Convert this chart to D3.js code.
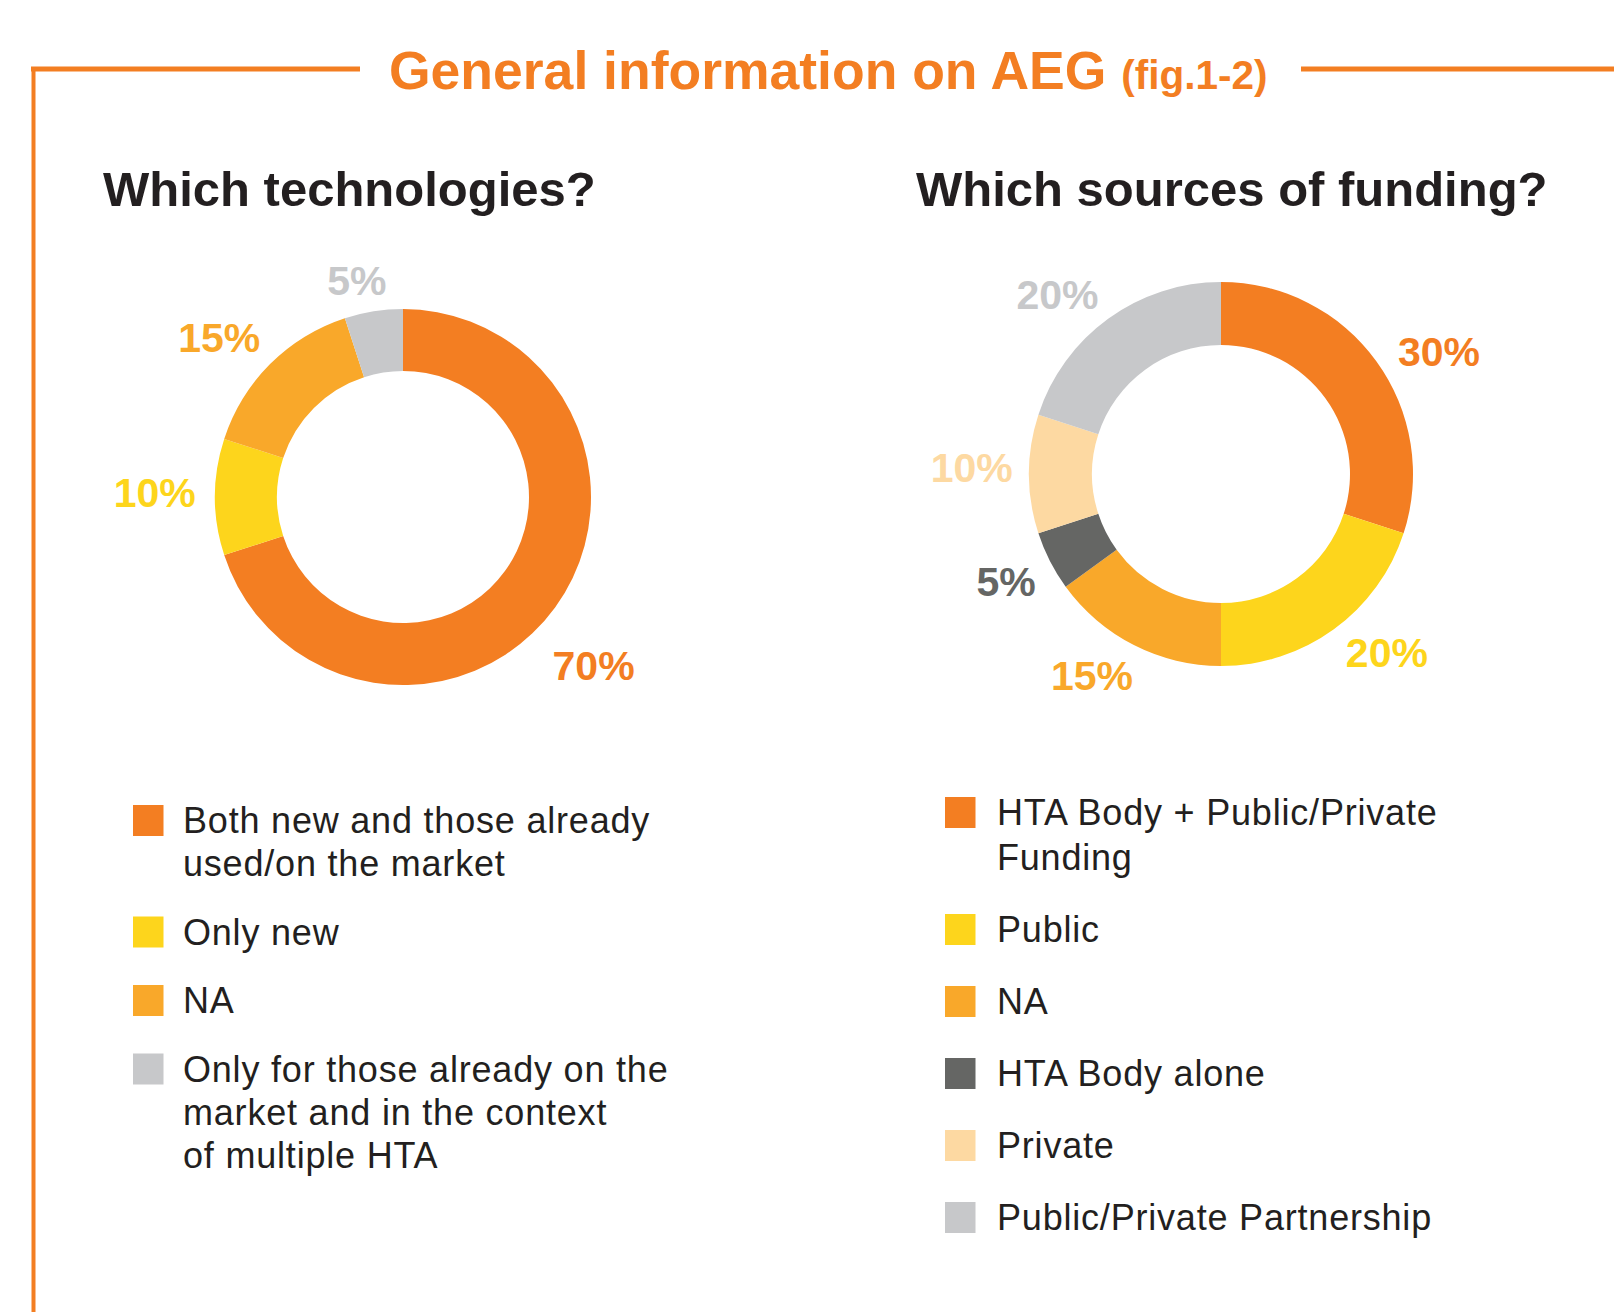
<!DOCTYPE html>
<html>
<head>
  <title>General information on AEG</title>
  <script src="https://d3js.org/d3.v7.min.js"></script>
  <style>
    body { margin: 0; background: #fff; }
    text { font-family: "Liberation Sans", Arial, Helvetica, sans-serif; }
  </style>
</head>
<body>
<script type="text/javascript">
  // data for the two donuts
  var techLabels = [
    ["Both new and those already", "used/on the market"],
    ["Only new"],
    ["NA"],
    ["Only for those already on the", "market and in the context", "of multiple HTA"]
  ];
  var techValues = [70, 10, 15, 5];
  var techColors = ["#F37E22", "#FDD51C", "#F9A82A", "#C7C8CA"];

  var fundLabels = [
    ["HTA Body + Public/Private", "Funding"],
    ["Public"],
    ["NA"],
    ["HTA Body alone"],
    ["Private"],
    ["Public/Private Partnership"]
  ];
  var fundValues = [30, 20, 15, 5, 10, 20];
  var fundColors = ["#F37E22", "#FDD51C", "#F9A82A", "#656664", "#FDD9A2", "#C7C8CA"];

  var w = 1614;
  var h = 1312;
  var orange = "#F37E22";

  var svg = d3.select("body").append("svg")
    .attr("width", w)
    .attr("height", h);

  // frame lines round the title
  svg.append("line")
    .attr("x1", 31).attr("x2", 360).attr("y1", 69).attr("y2", 69)
    .attr("stroke", orange).attr("stroke-width", 5);
  svg.append("line")
    .attr("x1", 1301).attr("x2", w).attr("y1", 69).attr("y2", 69)
    .attr("stroke", orange).attr("stroke-width", 5);
  svg.append("line")
    .attr("x1", 33.5).attr("x2", 33.5).attr("y1", 67).attr("y2", h)
    .attr("stroke", orange).attr("stroke-width", 4);

  var title = svg.append("text")
    .attr("x", 389)
    .attr("y", 89)
    .attr("fill", orange)
    .style("font-weight", "bold");
  title.append("tspan").style("font-size", "53.5px").text("General information on AEG ");
  title.append("tspan").style("font-size", "40.5px").text("(fig.1-2)");

  function drawDonut(cfg) {
    svg.append("text")
      .attr("x", cfg.titleX)
      .attr("y", 206)
      .attr("fill", "#231F20")
      .style("font-size", "49px")
      .style("font-weight", "bold")
      .text(cfg.title);

    var pie = d3.pie().sort(null).value(function(d){ return d; });
    var arcs = pie(cfg.values);
    var arc = d3.arc().innerRadius(cfg.inner).outerRadius(cfg.outer);

    var g = svg.append("g")
      .attr("transform", "translate(" + cfg.cx + "," + cfg.cy + ")");

    g.selectAll("path")
      .data(arcs)
      .enter()
      .append("path")
      .attr("d", arc)
      .attr("fill", function(d, i){ return cfg.colors[i]; });

    // percentage labels: pushed out along (roughly) the mid angle until the box clears the ring
    g.selectAll("text.pct")
      .data(arcs)
      .enter()
      .append("text")
      .attr("class", "pct")
      .attr("fill", function(d, i){ return cfg.colors[i]; })
      .style("font-size", "41px")
      .style("font-weight", "bold")
      .attr("text-anchor", "middle")
      .text(function(d){ return d.data + "%"; })
      .each(function(d, i){
        var bw = this.getComputedTextLength();
        var capH = 29.4;
        var nudge = cfg.labelNudge[i]; // [angle offset in degrees, gap from ring]
        var a = (d.startAngle + d.endAngle) / 2 + nudge[0] * Math.PI / 180;
        var sx = Math.sin(a), cy = -Math.cos(a);
        var r = cfg.outer + nudge[1] + Math.abs(sx) * bw / 2 + Math.abs(cy) * capH / 2;
        d3.select(this)
          .attr("x", sx * r)
          .attr("y", cy * r + capH / 2);
      });

    // legend
    var y = cfg.legY;
    cfg.labels.forEach(function(lines, i){
      svg.append("rect")
        .attr("x", cfg.legX)
        .attr("y", y - 28)
        .attr("width", 30.5)
        .attr("height", 31)
        .attr("fill", cfg.colors[i]);
      lines.forEach(function(line, j){
        svg.append("text")
          .attr("x", cfg.legX + cfg.textOff)
          .attr("y", y + j * cfg.lineGap)
          .attr("fill", "#231F20")
          .style("font-size", "36px")
          .style("letter-spacing", "0.8px")
          .text(line);
      });
      y += (lines.length - 1) * cfg.lineGap + cfg.itemGap;
    });
  }

  drawDonut({
    title: "Which technologies?", titleX: 103,
    values: techValues, colors: techColors, labels: techLabels,
    cx: 403, cy: 497, outer: 188, inner: 126,
    labelNudge: [[5.5, 26], [1, 19], [-4, 15], [-3, 13]],
    legX: 133, textOff: 50, legY: 833, lineGap: 43, itemGap: 68.5
  });

  drawDonut({
    title: "Which sources of funding?", titleX: 916,
    values: fundValues, colors: fundColors, labels: fundLabels,
    cx: 1221, cy: 474, outer: 192, inner: 129,
    labelNudge: [[6.7, 15], [-7, 12.5], [5.6, 13], [0.5, 15], [1.5, 16], [-6.3, 12.5]],
    legX: 945, textOff: 52, legY: 825, lineGap: 45, itemGap: 72
  });
</script>
</body>
</html>
